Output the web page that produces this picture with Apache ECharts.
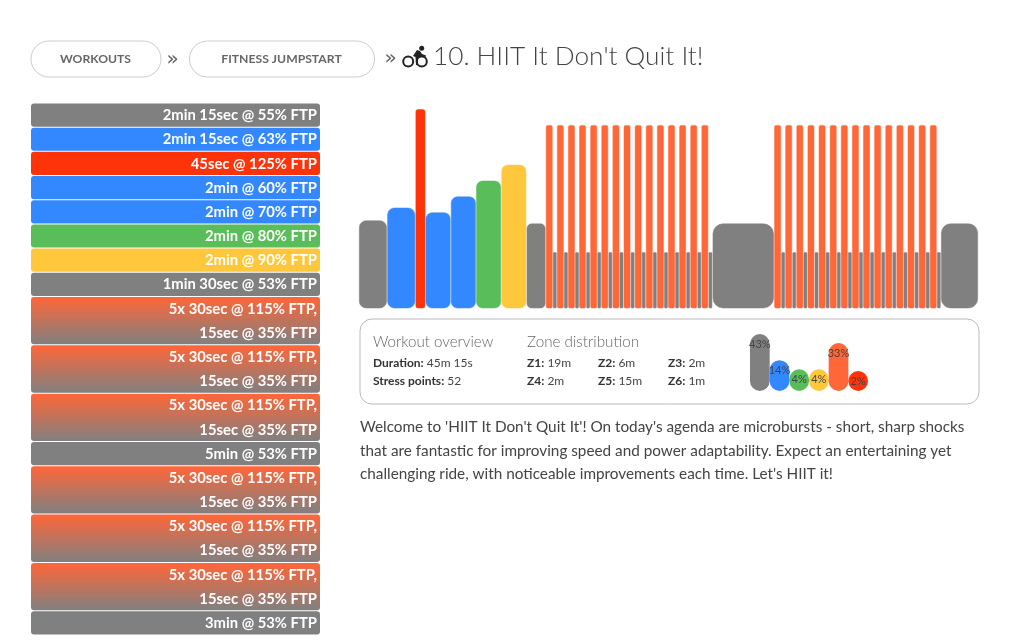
<!DOCTYPE html>
<html><head><meta charset="utf-8">
<style>html,body{margin:0;padding:0;background:#fff}#c{width:1024px;height:640px}</style>
<script src="https://cdn.jsdelivr.net/npm/echarts@6/dist/echarts.min.js"></script>
</head><body><div id="c"></div>
<script>
const FONT = 'Lato, "Open Sans", sans-serif';
const zoneColors = ['#808080','#3388ff','#59bd59','#ffc83c','#ff6638','#ff330a'];

// workout graph: seconds, %FTP and zone of every segment
const segSeconds = [135,135,45,120,120,120,120,90,
 30,15,30,15,30,15,30,15,30,15, 30,15,30,15,30,15,30,15,30,15, 30,15,30,15,30,15,30,15,30,15,
 300,
 30,15,30,15,30,15,30,15,30,15, 30,15,30,15,30,15,30,15,30,15, 30,15,30,15,30,15,30,15,30,15,
 180];
const segPower = [55,63,125,60,70,80,90,53,
 115,35,115,35,115,35,115,35,115,35, 115,35,115,35,115,35,115,35,115,35, 115,35,115,35,115,35,115,35,115,35,
 53,
 115,35,115,35,115,35,115,35,115,35, 115,35,115,35,115,35,115,35,115,35, 115,35,115,35,115,35,115,35,115,35,
 53];
const segZone = [0,1,5,1,1,2,3,0,
 4,0,4,0,4,0,4,0,4,0, 4,0,4,0,4,0,4,0,4,0, 4,0,4,0,4,0,4,0,4,0,
 0,
 4,0,4,0,4,0,4,0,4,0, 4,0,4,0,4,0,4,0,4,0, 4,0,4,0,4,0,4,0,4,0,
 0];

// step list on the left
const stepLabels = ['2min 15sec @ 55% FTP','2min 15sec @ 63% FTP','45sec @ 125% FTP','2min @ 60% FTP','2min @ 70% FTP','2min @ 80% FTP','2min @ 90% FTP','1min 30sec @ 53% FTP',
 '5x 30sec @ 115% FTP,|15sec @ 35% FTP','5x 30sec @ 115% FTP,|15sec @ 35% FTP','5x 30sec @ 115% FTP,|15sec @ 35% FTP',
 '5min @ 53% FTP',
 '5x 30sec @ 115% FTP,|15sec @ 35% FTP','5x 30sec @ 115% FTP,|15sec @ 35% FTP','5x 30sec @ 115% FTP,|15sec @ 35% FTP',
 '3min @ 53% FTP'];
const stepFillA = [0,1,5,1,1,2,3,0,4,4,4,0,4,4,4,0];
const stepFillB = [0,1,5,1,1,2,3,0,0,0,0,0,0,0,0,0];

// zone distribution
const zonePercent = [43,14,4,4,33,2];
const zoneTimes = ['19m','6m','2m','2m','15m','1m'];
const crumbs = ['WORKOUTS','FITNESS JUMPSTART'];
const titleText = "10. HIIT It Don't Quit It!";
const paragraph = ["Welcome to 'HIIT It Don't Quit It'! On today's agenda are microbursts - short, sharp shocks",
 "that are fantastic for improving speed and power adaptability. Expect an entertaining yet",
 "challenging ride, with noticeable improvements each time. Let's HIIT it!"];

const GAP = 5.02;
let cursor = 0;
const segData = segSeconds.map((d,i)=>{const row=[cursor,d,segPower[i],segZone[i]];cursor+=d+GAP;return row;});
const segMax = cursor-GAP;
let rowCursor = 0;
const stepData = stepLabels.map((t,i)=>{const span=t.split('|').length;const row=[rowCursor,span,i];rowCursor+=span;return row;});

const hidden = {show:false};
function txt(x,y,text,size,color,weight,extra){
  return {type:'text',x,y,silent:true,style:Object.assign({text,fontFamily:FONT,fontSize:size,fill:color,fontWeight:weight||'normal',verticalAlign:'middle',align:'left'},extra||{})};
}
const rich = {b:{fontFamily:FONT,fontSize:12,fontWeight:700,fill:'#333',color:'#333'},n:{fontFamily:FONT,fontSize:12,color:'#444',fill:'#444'}};
function pair(x,y,k,v){return {type:'text',x,y,silent:true,style:{text:'{b|'+k+':} {n|'+v+'}',rich,verticalAlign:'middle',fontFamily:FONT,fontSize:12}};}

const graphics = [
 {type:'rect',shape:{x:31,y:41,width:130,height:36,r:18},style:{fill:'#fff',stroke:'#cccccc',lineWidth:1}},
 {type:'rect',shape:{x:189.5,y:41,width:185,height:36,r:18},style:{fill:'#fff',stroke:'#cccccc',lineWidth:1}},
 txt(95.5,59.5,crumbs[0],12.2,'#666',700,{align:'center'}),
 txt(281.5,59.5,crumbs[1],12.2,'#666',700,{align:'center'}),
 txt(166.5,60,'»',20,'#666','normal',{fontFamily:'"DejaVu Sans"'}),
 txt(384.5,59,'»',20,'#666','normal',{fontFamily:'"DejaVu Sans"'}),
 // cyclist icon
 {type:'circle',shape:{cx:408.2,cy:61.5,r:5},style:{fill:'none',stroke:'#222',lineWidth:2}},
 {type:'circle',shape:{cx:421.8,cy:61.5,r:5},style:{fill:'none',stroke:'#222',lineWidth:2}},
 {type:'circle',shape:{cx:421.7,cy:48.2,r:2.5},style:{fill:'#222'}},
 {type:'polygon',shape:{points:[[417,50],[420,51],[422,54],[426,55.5],[425.5,57],[420.5,56],[418,58],[418,65],[416,65],[415.5,57],[413,56]]},style:{fill:'#222'}},
 txt(433,57,titleText,26.2,'#444',300),
 {type:'rect',shape:{x:360,y:319,width:619,height:85,r:12},style:{fill:'#fff',stroke:'#bbbbbb',lineWidth:1},z:-1},
 txt(373,342,'Workout overview',15.1,'#666',300),
 txt(527,342,'Zone distribution',15.2,'#666',300),
 pair(373,363,'Duration','45m 15s'),
 pair(373,381,'Stress points','52'),
 pair(527,363,'Z1',zoneTimes[0]), pair(598,363,'Z2',zoneTimes[1]), pair(668,363,'Z3',zoneTimes[2]),
 pair(527,381,'Z4',zoneTimes[3]), pair(598,381,'Z5',zoneTimes[4]), pair(668,381,'Z6',zoneTimes[5]),
 txt(360,427.5,paragraph[0],15.3,'#444'),
 txt(360,451,paragraph[1],15.3,'#444'),
 txt(360,474.5,paragraph[2],15.3,'#444')
];

const chart = echarts.init(document.getElementById('c'));
chart.setOption({
 animation:false,
 backgroundColor:'#fff',
 graphic:graphics,
 grid:[
  {left:359.3,top:109.5,width:618.4,height:198.5},
  {left:31,top:103,width:289,height:532},
  {left:750,top:334,width:118,height:57}
 ],
 xAxis:[
  {gridIndex:0,type:'value',min:0,max:segMax,...hidden},
  {gridIndex:1,type:'value',min:0,max:1,...hidden},
  {gridIndex:2,type:'value',min:0,max:6,...hidden}
 ],
 yAxis:[
  {gridIndex:0,type:'value',min:0,max:125,...hidden},
  {gridIndex:1,type:'value',min:0,max:22,inverse:true,...hidden},
  {gridIndex:2,type:'value',min:-20,max:43,...hidden}
 ],
 series:[
  {type:'custom',xAxisIndex:0,yAxisIndex:0,data:segData,encode:{x:0,y:2},silent:true,clip:false,
   renderItem(p,api){
    const s=api.value(0),d=api.value(1),v=api.value(2),z=api.value(3);
    const a=api.coord([s,v]),b=api.coord([s,0]),w=api.size([d,0])[0];
    return {type:'rect',shape:{x:a[0],y:a[1],width:w,height:b[1]-a[1],r:Math.min(w/4,10)},style:{fill:zoneColors[z],stroke:zoneColors[z],lineWidth:0.5}};
   }},
  {type:'custom',xAxisIndex:1,yAxisIndex:1,data:stepData,encode:{x:2,y:0},silent:true,clip:false,
   renderItem(p,api){
    const r=api.value(0),n=api.value(1),i=api.value(2);
    const a=api.coord([0,r]),b=api.coord([1,r+n]);
    const A=zoneColors[stepFillA[i]],B=zoneColors[stepFillB[i]];
    const fill=A===B?A:new echarts.graphic.LinearGradient(0,0,0,1,[{offset:0,color:A},{offset:1,color:B}]);
    const kids=[{type:'rect',shape:{x:a[0],y:a[1]+0.5,width:b[0]-a[0],height:b[1]-a[1]-1,r:3},style:{fill}}];
    stepLabels[i].split('|').forEach((t,k)=>{
      const c=api.coord([1,r+k+0.5]);
      kids.push({type:'text',x:c[0]-3,y:c[1]+0.3,style:{text:t,align:'right',verticalAlign:'middle',fontFamily:FONT,fontSize:14.8,fontWeight:700,fill:'#fff'}});
    });
    return {type:'group',children:kids};
   }},
  {type:'custom',xAxisIndex:2,yAxisIndex:2,data:zonePercent.map((v,i)=>[i,v]),encode:{x:0,y:1},silent:true,clip:false,
   renderItem(p,api){
    const i=api.value(0),v=api.value(1);
    const a=api.coord([i,v]),b=api.coord([i+1,-20]),w=b[0]-a[0];
    return {type:'group',children:[
     {type:'rect',shape:{x:a[0],y:a[1],width:w,height:b[1]-a[1],r:w/2},style:{fill:zoneColors[i]}},
     {type:'text',x:a[0]+w/2,y:a[1]+10,style:{text:v+'%',align:'center',verticalAlign:'middle',fontFamily:FONT,fontSize:11,fill:'#444'}}
    ]};
   }}
 ]
});
</script></body></html>
